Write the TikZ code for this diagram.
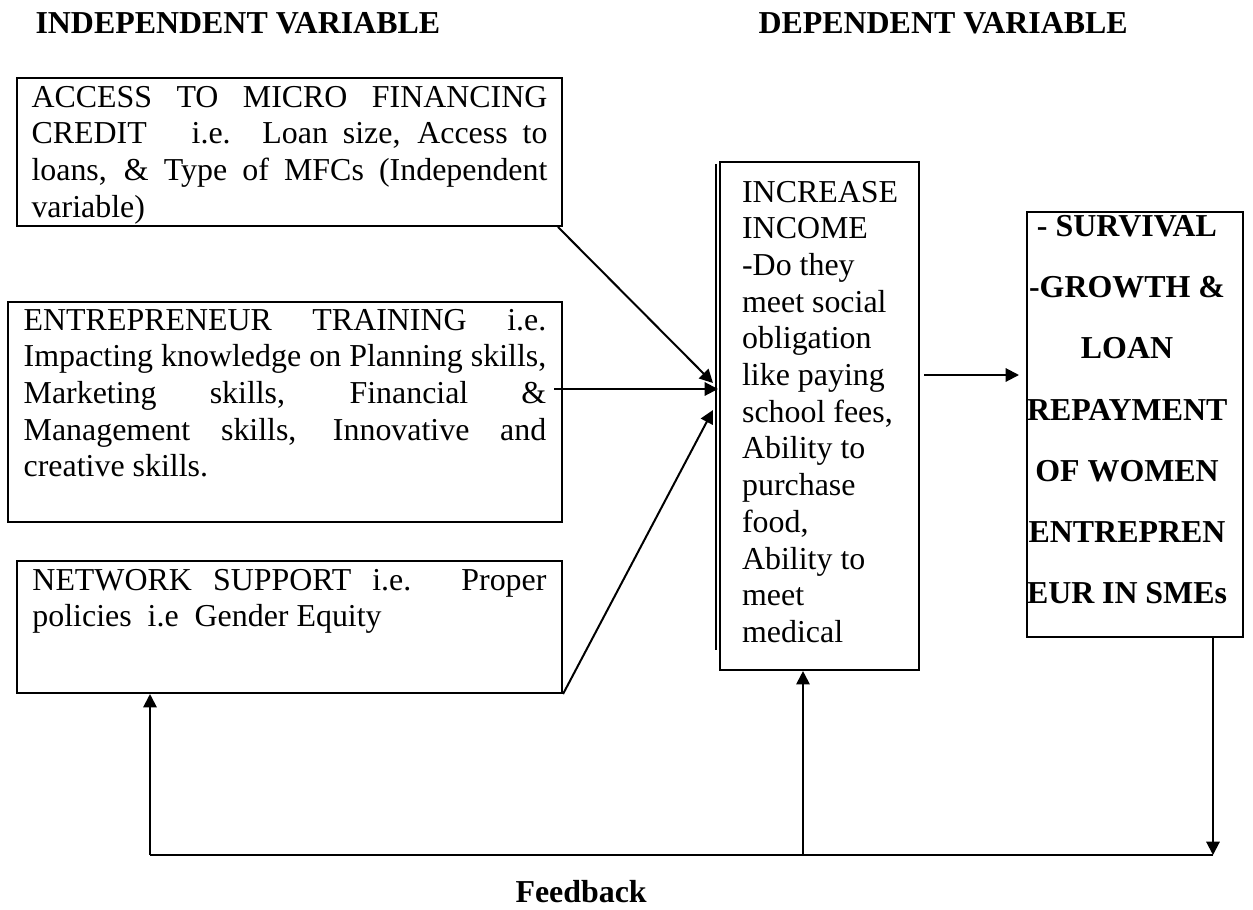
\documentclass[tikz,border=0pt]{standalone}
\usepackage{fontspec}
\setmainfont{Liberation Serif}
\usetikzlibrary{arrows.meta,calc}
\newcommand{\cell}[3]{\parbox[t][#1][t]{#2}{#3}}
\tikzset{bx/.style={draw,line width=.8pt,inner xsep=0pt,font=\fontsize{12}{13.8}\selectfont},
 hd/.style={font=\bfseries\fontsize{12}{13.8}\selectfont,inner sep=0pt,anchor=base west},
 wire/.style={line width=.75pt},arr/.style={wire,-{Triangle[length=5pt,width=5pt]}}}
\begin{document}
\begin{tikzpicture}[x=.376pt,y=-.376pt]
\useasboundingbox (0,0) rectangle (1253,910);
\node[hd] (hi) at (35,33) {INDEPENDENT VARIABLE};
\node[hd] (hdep) at (758,33) {DEPENDENT VARIABLE};
\node[bx,minimum width=204.9pt,inner ysep=3pt] (acc) at (289.5,152) {\cell{49.6pt}{194pt}{ACCESS TO MICRO FINANCING\linebreak CREDIT\ \ \ i.e. Loan size, Access to\linebreak loans, \& Type of MFCs (Independent\linebreak variable)}};
\node[bx,minimum width=208.3pt,inner ysep=2.6pt] (train) at (285,412) {\cell{77.5pt}{196.5pt}{ENTREPRENEUR TRAINING i.e.\linebreak Impacting knowledge on Planning skills,\linebreak Marketing skills, Financial \&\linebreak Management skills, Innovative and\linebreak creative skills.}};
\node[bx,minimum width=204.9pt,inner ysep=3pt] (net) at (289.5,627) {\cell{43.6pt}{193.3pt}{NETWORK SUPPORT i.e. Proper\linebreak policies\ \ i.e\ \ Gender Equity}};
\node[bx,inner ysep=7.1pt] (inc) at (819.5,416) {\cell{176.8pt}{74.8pt}{\raggedright\leftskip=8.3pt INCREASE\\INCOME\\-Do they\\meet social\\obligation\\like paying\\school fees,\\Ability to\\purchase\\food,\\Ability to\\meet\\medical}};
\node[bx,inner ysep=1.3pt,font=\bfseries\fontsize{12}{23}\selectfont] (out) at (1135,424.5) {\cell{157.2pt}{81.2pt}{\centering\rightskip=6pt plus 1fil - SURVIVAL\\-GROWTH \&\\LOAN\\REPAYMENT\\OF WOMEN\\ENTREPREN\\EUR IN SMEs}};
\draw[line width=.5pt] ($(inc.north west)+(-3,3)$) -- ($(inc.south west)+(-3,-21)$);
% arrows into the income box
\coordinate (in1) at (713,383);
\coordinate (in2) at (718,389);
\coordinate (in3) at (713,410);
\coordinate (o1) at (1019,375);
\draw[arr] ([xshift=-1.9pt]acc.south east) -- (in1);
\draw[arr] ([xshift=-3.4pt]train.east |- in2) -- (in2);
\draw[arr] (net.south east) -- (in3);
\draw[arr] ([xshift=1.5pt]inc.east |- o1) -- (o1);
% feedback loop
\coordinate (fbl) at (150,855);
\coordinate (fbm) at (803,855);
\coordinate (fbr) at (1213,855);
\draw[arr] (fbr |- out.south) -- (fbr);
\draw[wire] (fbr) -- (fbl);
\draw[arr] (fbl) -- (fbl |- net.south);
\draw[arr] (fbm) -- (fbm |- inc.south);
\node[hd] (fb) at (515,902) {Feedback};
\end{tikzpicture}
\end{document}
